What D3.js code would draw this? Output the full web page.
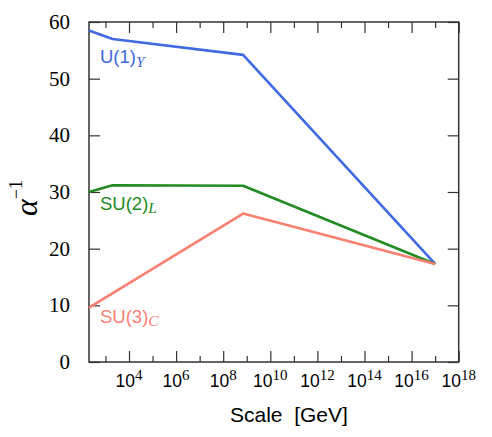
<!DOCTYPE html>
<html>
<head>
<meta charset="utf-8">
<script src="https://cdn.jsdelivr.net/npm/d3@7"></script>
<style>
  body { margin: 0; background: #fff; }
</style>
</head>
<body>
<div class="chart"></div>
<script>
// running inverse couplings
var u1Scale = [200, 2000, 7e8, 1e17];
var u1Alpha = [58.5, 57.0, 54.2, 17.3];
var su2Scale = [200, 2000, 7e8, 1e17];
var su2Alpha = [30.0, 31.2, 31.1, 17.3];
var su3Scale = [200, 7e8, 1e17];
var su3Alpha = [9.6, 26.2, 17.3];

var majorExp = [4, 6, 8, 10, 12, 14, 16, 18];
var minorExp = [3, 5, 7, 9, 11, 13, 15, 17];
var yTicks = [0, 10, 20, 30, 40, 50, 60];

var SANS = "'Liberation Sans', Arial, Helvetica, sans-serif";
var SERIF = "'Liberation Serif', 'Times New Roman', Times, serif";

var W = 492, H = 437;
var margin = {top: 22, right: 33.3, bottom: 75, left: 89},
    width = W - margin.left - margin.right,
    height = H - margin.top - margin.bottom;

var svg = d3.select(".chart").append("svg")
    .attr("width", W)
    .attr("height", H);

var g = svg.append("g")
    .attr("transform", "translate(" + margin.left + "," + margin.top + ")");

var x = d3.scaleLog()
    .domain([200, 1e18])
    .range([0, width]);

var y = d3.scaleLinear()
    .domain([0, 60])
    .range([height, 0]);

var axisColor = "#333";

function tickAxis(axisFn, scale, vals, size) {
  return axisFn(scale).tickValues(vals).tickSize(size).tickSizeOuter(0).tickFormat("");
}

// x ticks, bottom and top, inward
g.append("g").attr("transform", "translate(0," + height + ")")
    .call(tickAxis(d3.axisBottom, x, majorExp.map(function(e){ return Math.pow(10, e); }), -11));
g.append("g").attr("transform", "translate(0," + height + ")")
    .call(tickAxis(d3.axisBottom, x, minorExp.map(function(e){ return Math.pow(10, e); }), -6));
g.append("g")
    .call(tickAxis(d3.axisTop, x, majorExp.map(function(e){ return Math.pow(10, e); }), -11));
g.append("g")
    .call(tickAxis(d3.axisTop, x, minorExp.map(function(e){ return Math.pow(10, e); }), -6));

// y ticks, left and right, inward
g.append("g").call(tickAxis(d3.axisLeft, y, yTicks, -11));
g.append("g").attr("transform", "translate(" + width + ",0)")
    .call(tickAxis(d3.axisRight, y, yTicks, -11));

g.selectAll(".domain").remove();
g.selectAll(".tick line").attr("stroke", axisColor).attr("stroke-width", 1.2);

g.append("rect")
    .attr("width", width)
    .attr("height", height)
    .attr("fill", "none")
    .attr("stroke", axisColor)
    .attr("stroke-width", 1.5);

// x tick labels: 10^n
var xl = g.selectAll(".xlab")
    .data(majorExp)
  .enter().append("text")
    .attr("class", "xlab")
    .attr("x", function(d){ return x(Math.pow(10, d)); })
    .attr("y", height + 25)
    .attr("text-anchor", "middle")
    .attr("fill", "#000");
xl.append("tspan")
    .style("font-family", SANS)
    .style("font-size", "17.5px")
    .text("10");
xl.append("tspan")
    .style("font-family", SERIF)
    .style("font-size", "15px")
    .attr("dy", -7)
    .text(function(d){ return d; });

// y tick labels
g.selectAll(".ylab")
    .data(yTicks)
  .enter().append("text")
    .attr("class", "ylab")
    .attr("x", -19)
    .attr("y", function(d){ return y(d) + 7; })
    .attr("text-anchor", "end")
    .style("font-family", SERIF)
    .style("font-size", "21px")
    .text(function(d){ return d; });

// lines
var line = d3.line()
    .x(function(d){ return x(d[0]); })
    .y(function(d){ return y(d[1]); });

var series = [
  {s: u1Scale, a: u1Alpha, color: "#4169e1", name: "U(1)", sub: "Y", lx: 11, ly: 63},
  {s: su2Scale, a: su2Alpha, color: "#228b22", name: "SU(2)", sub: "L", lx: 11, ly: 209.5},
  {s: su3Scale, a: su3Alpha, color: "#fa8072", name: "SU(3)", sub: "C", lx: 11, ly: 322.5}
];

series.forEach(function(sr){
  g.append("path")
      .datum(d3.zip(sr.s, sr.a))
      .attr("fill", "none")
      .attr("stroke", sr.color)
      .attr("stroke-width", 2.6)
      .attr("stroke-linejoin", "round")
      .attr("d", line);

  var t = g.append("text")
      .attr("x", sr.lx)
      .attr("y", sr.ly - margin.top)
      .attr("fill", sr.color);
  t.append("tspan").style("font-family", SANS).style("font-size", "18.5px").text(sr.name);
  t.append("tspan").style("font-family", SERIF).style("font-size", "15.5px")
      .style("font-style", "italic").attr("dy", 3.5).text(sr.sub);
});

// axis titles
svg.append("text")
    .attr("x", 230)
    .attr("y", 421.5)
    .style("font-family", SANS)
    .style("font-size", "21px")
    .text("Scale\u00a0\u00a0[GeV]");

var yt = svg.append("text")
    .attr("transform", "translate(37,216) rotate(-90)")
    .attr("fill", "#000");
yt.append("tspan").style("font-family", SERIF).style("font-style", "italic")
    .style("font-size", "32px").text("\u03b1");
yt.append("tspan").style("font-family", SERIF).style("font-size", "18px")
    .attr("dy", -15).text("\u22121");
</script>
</body>
</html>
